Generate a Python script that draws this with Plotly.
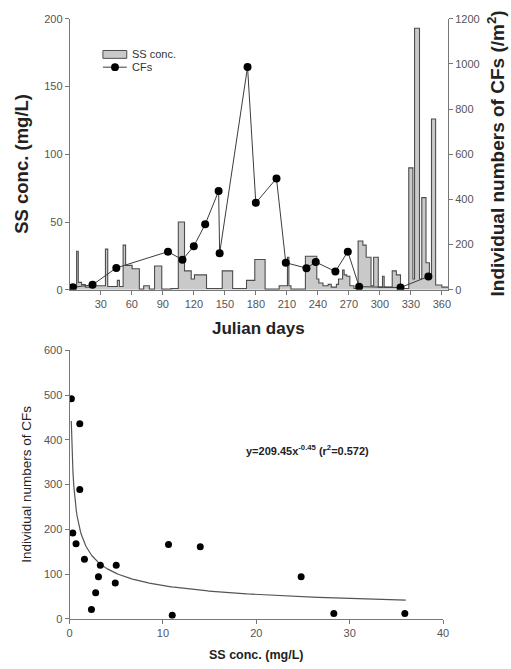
import numpy as np
import plotly.graph_objects as go

W, H = 511, 669

# --- Daily suspended solids (step profile: start day of each step and its level, mg/L)
ss_start_day = [0, 6.6, 8.2, 11.4, 15, 24, 34.5, 36.7, 46, 48, 51.6, 54, 60.3, 67.3,
                71.5, 77, 82, 89, 98, 105, 111, 117.5, 120.6, 132.3, 147.5, 157.6,
                171, 179, 189, 202.6, 210.6, 212, 214, 228, 239, 241, 245, 250, 253,
                258, 260, 264, 265.5, 268, 271, 275, 279, 283.6, 286.8, 291.5, 294,
                298.5, 302.6, 304.2, 312, 316, 320, 322, 328, 332, 333.6, 338.4,
                340.6, 344.7, 348, 350, 354, 360, 366]
ss_level = [2, 28.5, 5.5, 3.8, 2, 3, 30, 2.5, 7, 2.5, 33, 18, 15.5, 0.5,
            3, 0.5, 17.6, 0.5, 1, 50, 14, 8, 11, 1, 14, 1,
            7, 22.4, 0.5, 3, 24, 3, 0.5, 24.8, 8, 5, 3, 4, 2,
            4, 8, 14.5, 11, 10, 3, 1, 36, 33, 24, 3, 24,
            2, 10, 2, 14, 11, 3, 1, 90, 8, 193, 8,
            68, 20, 10, 126, 3.6, 2, 2]

# --- CF abundance sampled on Julian days (ind./m2)
cf_day = [3, 22, 45, 95, 109, 120, 131, 144, 145, 172, 180, 200, 209, 229, 238,
          257, 269, 280, 320, 347]
cf_count = [11, 22, 97, 169, 133, 193, 290, 437, 162, 987, 385, 493, 120, 96, 123,
            81, 169, 14, 10, 59]

# --- CF abundance vs SS concentration
sc_ss = [0.2, 1.1, 1.1, 0.35, 0.7, 1.6, 3.3, 3.1, 2.8, 2.35, 5.0, 4.9, 10.6, 11.0,
         14.0, 24.8, 28.3, 35.9]
sc_cf = [492, 436, 289, 192, 168, 133, 120, 94, 58, 21, 120, 80, 166, 8,
         161, 94, 12, 12]

# Power-law fit y = a * x^b
fit_a, fit_b = 209.45, -0.45
fit_x = np.linspace(0.19, 36, 400)
fit_y = fit_a * fit_x ** fit_b

FONT = "Liberation Sans, Arial, sans-serif"
TICK = dict(family=FONT, size=11, color="#555555")
AX = "#777777"

def px_x(p):
    return p / W

def px_y(p):
    return 1 - p / H

fig = go.Figure()

fig.add_trace(go.Scatter(
    x=ss_start_day, y=ss_level, mode="lines", line_shape="hv",
    line=dict(color="#4d4d4d", width=1.1), fill="tozeroy", fillcolor="#c9c9c9",
    xaxis="x", yaxis="y", showlegend=False))

fig.add_trace(go.Scatter(
    x=cf_day, y=cf_count, mode="lines+markers",
    line=dict(color="#3c3c3c", width=1),
    marker=dict(color="black", size=8),
    xaxis="x", yaxis="y2", showlegend=False))

fig.add_trace(go.Scatter(
    x=fit_x, y=fit_y, mode="lines", line=dict(color="#555555", width=1.2),
    xaxis="x2", yaxis="y3", showlegend=False))

fig.add_trace(go.Scatter(
    x=sc_ss, y=sc_cf, mode="markers", marker=dict(color="black", size=7),
    xaxis="x2", yaxis="y3", showlegend=False))

common = dict(showgrid=False, zeroline=False, showline=True, linecolor=AX,
              linewidth=1, ticks="outside", ticklen=4, tickcolor=AX,
              tickfont=TICK)

fig.update_layout(
    width=W, height=H, margin=dict(l=0, r=0, t=0, b=0),
    paper_bgcolor="white", plot_bgcolor="white",
    xaxis=dict(domain=[px_x(68), px_x(453)], range=[0, 366],
               tickvals=list(range(30, 361, 30)), anchor="y", **common),
    yaxis=dict(domain=[px_y(289), px_y(13)], range=[0, 200],
               tickvals=[0, 50, 100, 150, 200], anchor="x", **common),
    yaxis2=dict(range=[0, 1200], overlaying="y", side="right", anchor="x",
                tickvals=list(range(0, 1201, 200)), **common),
    xaxis2=dict(domain=[px_x(67.7), px_x(448)], range=[0, 40],
                tickvals=[0, 10, 20, 30, 40], anchor="y3", **common),
    yaxis3=dict(domain=[px_y(624), px_y(350.7)], range=[0, 600],
                tickvals=list(range(0, 601, 100)), anchor="x2", **common),
)

ann = []
def label(text, x, y, size, bold=False, angle=0, color="#222222", **kw):
    if bold:
        text = "<b>" + text + "</b>"
    ann.append(dict(text=text, x=px_x(x), y=px_y(y), xref="paper", yref="paper",
                    showarrow=False, textangle=angle, xanchor=kw.get("xanchor", "center"),
                    yanchor="middle",
                    font=dict(family=FONT, size=size, color=color)))

label("SS conc. (mg/L)", 18, 161, 18.5, bold=True, angle=-90)
label("Individual numbers of CFs (/m<sup>2</sup>)", 502, 150, 19, bold=True, angle=-90)
label("Julian days", 260, 328, 17, bold=True)
label("Individual numbers of CFs", 24, 487, 13.5, angle=-90)
label("SS conc. (mg/L)", 258, 661, 12.5, bold=True)
label("y=209.45x<sup>-0.45</sup> (r<sup>2</sup>=0.572)", 310, 452, 11, bold=True)

# Legend
label("SS conc.", 129, 49, 11, color="#333333", xanchor="left")
label("CFs", 129, 62, 11, color="#333333", xanchor="left")
fig.add_shape(type="rect", xref="paper", yref="paper",
              x0=px_x(101.7), x1=px_x(126), y0=px_y(53.3), y1=px_y(45.3),
              line=dict(color="#4d4d4d", width=1), fillcolor="#c9c9c9")
fig.add_shape(type="line", xref="paper", yref="paper",
              x0=px_x(101.7), x1=px_x(126), y0=px_y(62.3), y1=px_y(62.3),
              line=dict(color="#3c3c3c", width=1))
fig.add_shape(type="circle", xref="paper", yref="paper",
              x0=px_x(110), x1=px_x(118), y0=px_y(66.3), y1=px_y(58.3),
              line=dict(color="black", width=0), fillcolor="black")

fig.update_layout(annotations=ann)
fig.write_html("out.html")
